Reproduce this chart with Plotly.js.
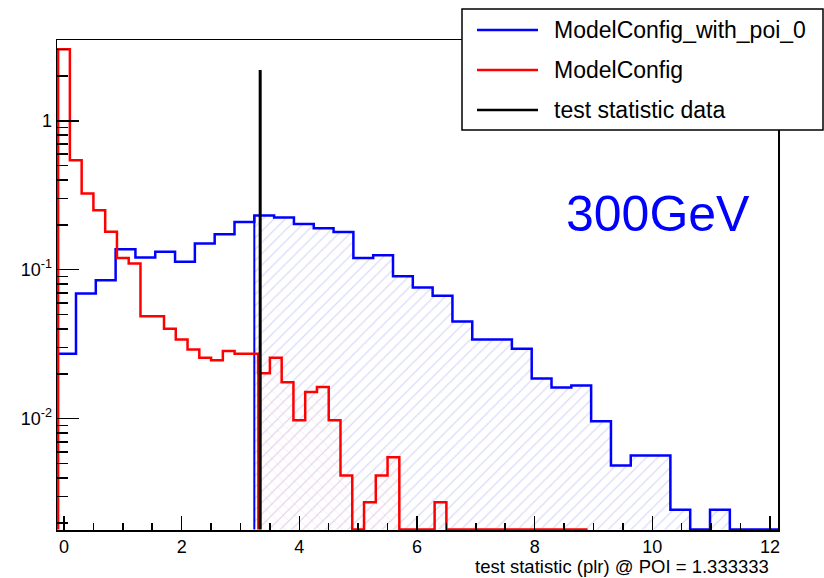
<!DOCTYPE html>
<html>
<head>
<meta charset="utf-8">
<script src="https://cdn.plot.ly/plotly-3.0.1.min.js"></script>
<style>html,body{margin:0;padding:0;background:#fff;}#chart{width:824px;height:578px;}</style>
</head>
<body>
<div id="chart"></div>
<script>
// ---- data ----
const seriesNames = ["ModelConfig_with_poi_0", "ModelConfig", "test statistic data"];
const blueBinStart = -0.133;
const blueBinWidth = 0.3368;
const blueValues = [0.0273, 0.0692, 0.085, 0.137, 0.121, 0.132, 0.113, 0.150, 0.173, 0.209,
  0.231, 0.224, 0.203, 0.190, 0.179, 0.120, 0.125, 0.0904, 0.0760, 0.0669,
  0.0449, 0.0340, 0.0340, 0.0295, 0.0186, 0.0162, 0.0167, 0.0096, 0.00486, 0.00567,
  0.00567, 0.00245, 0, 0.00245, 0, 0, 0];
const redBinStart = -0.1;
const redBinWidth = 0.2;
const redValues = [3.02, 0.544, 0.325, 0.251, 0.180, 0.120, 0.110, 0.0487, 0.0487, 0.0402,
  0.0340, 0.0291, 0.0257, 0.0247, 0.0285, 0.0273, 0.0273, 0.0202, 0.0257, 0.0176,
  0.00975, 0.0151, 0.0163, 0.00975, 0.00416, 0, 0.00275, 0.00416, 0.00552, 0,
  0, 0, 0.00275, 0, 0, 0, 0, 0, 0, 0, 0, 0, 0, 0, 0];
const testStatistic = 3.335;
const testLineTop = 2.19;
const xTickVals = [0, 2, 4, 6, 8, 10, 12];
const yTickVals = [0.01, 0.1, 1];
const yTickText = ["10<sup>-2</sup>", "10<sup>-1</sup>", "1"];
const xTitle = "test statistic (plr) @ POI = 1.333333";
const massLabel = "300GeV";

// ---- layout constants ----
const W = 824, H = 578;
const L = 57, R = 778, T = 40, B = 530;
const yLogMin = -2.747, yLogMax = 0.542;
const floorVal = Math.pow(10, yLogMin + 0.004);
const font = "Liberation Sans, Arial, Helvetica, sans-serif";
const px = x => (x - L) / (R - L);
const py = y => (B - y) / (B - T);

function stepTrace(start, width, vals) {
  const xs = [start], ys = [floorVal];
  vals.forEach((v, i) => { xs.push(start + i * width); ys.push(v > 0 ? v : floorVal); });
  const end = start + vals.length * width;
  xs.push(end); ys.push(vals[vals.length - 1] > 0 ? vals[vals.length - 1] : floorVal);
  xs.push(end); ys.push(floorVal);
  return {xs, ys};
}
function shadedTrace(start, width, vals, cut) {
  let k0 = 0;
  while (start + (k0 + 1) * width <= cut) k0++;
  const xs = [start + k0 * width], ys = [floorVal];
  for (let i = k0; i < vals.length; i++) { xs.push(start + i * width); ys.push(vals[i] > 0 ? vals[i] : floorVal); }
  const end = start + vals.length * width;
  xs.push(end); ys.push(vals[vals.length - 1] > 0 ? vals[vals.length - 1] : floorVal);
  xs.push(end); ys.push(floorVal);
  return {xs, ys, edge: start + k0 * width, v: vals[k0]};
}

const blueStep = stepTrace(blueBinStart, blueBinWidth, blueValues);
const redStep = stepTrace(redBinStart, redBinWidth, redValues);
const blueShade = shadedTrace(blueBinStart, blueBinWidth, blueValues, testStatistic);
const redShade = shadedTrace(redBinStart, redBinWidth, redValues, testStatistic);

const traces = [
  {x: blueShade.xs, y: blueShade.ys, mode: "lines", line: {shape: "hv", width: 0, color: "rgba(0,0,0,0)"},
   fill: "toself", fillcolor: "rgba(0,0,0,0)",
   fillpattern: {shape: "/", fgcolor: "rgb(218,218,250)", bgcolor: "rgba(255,255,255,0)", size: 8, solidity: 0.15},
   hoverinfo: "skip", showlegend: false},
  {x: redShade.xs, y: redShade.ys, mode: "lines", line: {shape: "hv", width: 0, color: "rgba(0,0,0,0)"},
   fill: "toself", fillcolor: "rgba(0,0,0,0)",
   fillpattern: {shape: "x", fgcolor: "rgb(250,215,215)", bgcolor: "rgba(255,255,255,0)", size: 8, solidity: 0.12},
   hoverinfo: "skip", showlegend: false},
  {x: blueStep.xs, y: blueStep.ys, mode: "lines", name: seriesNames[0], line: {shape: "hv", width: 2.5, color: "#0000ff"}},
  {x: [blueShade.edge, blueShade.edge], y: [floorVal, blueShade.v], mode: "lines", line: {width: 2, color: "#0000ff"}, showlegend: false},
  {x: redStep.xs, y: redStep.ys, mode: "lines", name: seriesNames[1], line: {shape: "hv", width: 2.5, color: "#ff0000"}},
  {x: [redShade.edge, redShade.edge], y: [floorVal, redShade.v], mode: "lines", line: {width: 2, color: "#ff0000"}, showlegend: false},
  {x: [testStatistic, testStatistic], y: [floorVal, testLineTop], mode: "lines", name: seriesNames[2], line: {width: 3, color: "#000000"}}
];

const minorY = [];
for (let e = -3; e <= 0; e++) for (let d = 2; d <= 9; d++) {
  const v = d * Math.pow(10, e);
  if (Math.log10(v) > yLogMin && Math.log10(v) < yLogMax) minorY.push(v);
}

// manual legend (ROOT style box)
const legRows = [30, 70, 110];
const legColors = ["#0000ff", "#ff0000", "#000000"];
const shapes = [
  {type: "rect", xref: "paper", yref: "paper", x0: px(462), x1: px(823), y0: py(130), y1: py(9),
   line: {color: "#000", width: 1.5}, fillcolor: "#fff", layer: "above"}
];
const annotations = [];
legRows.forEach((yy, i) => {
  shapes.push({type: "line", xref: "paper", yref: "paper", x0: px(477), x1: px(538), y0: py(yy), y1: py(yy),
    line: {color: legColors[i], width: 2.5}, layer: "above"});
  annotations.push({xref: "paper", yref: "paper", x: px(552), y: py(yy), xanchor: "left", yanchor: "middle",
    text: seriesNames[i], showarrow: false, font: {family: font, size: 23, color: "#000"}});
});
annotations.push({xref: "paper", yref: "paper", x: px(658), y: py(214), xanchor: "center", yanchor: "middle",
  text: massLabel, showarrow: false, font: {family: font, size: 50, color: "#0000ff"}});
annotations.push({xref: "paper", yref: "paper", x: px(771), y: py(566), xanchor: "right", yanchor: "middle",
  text: xTitle, showarrow: false, font: {family: font, size: 18.5, color: "#000"}});

const layout = {
  width: W, height: H,
  margin: {l: L, r: W - R, t: T, b: H - B, pad: 0},
  paper_bgcolor: "#fff", plot_bgcolor: "#fff",
  showlegend: false,
  font: {family: font, size: 18, color: "#000"},
  xaxis: {range: [-0.119, 12.137], tickvals: xTickVals, ticks: "inside", ticklen: 14, tickwidth: 1.5, tickcolor: "#000",
    showline: true, mirror: true, linecolor: "#000", linewidth: 1.5, showgrid: false, zeroline: false,
    minor: {dtick: 0.5, ticks: "inside", ticklen: 7, tickwidth: 1.5, tickcolor: "#000", showgrid: false},
    tickfont: {family: font, size: 18, color: "#000"}},
  yaxis: {type: "log", range: [yLogMin, yLogMax], tickmode: "array", tickvals: yTickVals, ticktext: yTickText,
    ticks: "inside", ticklen: 22, tickwidth: 1.5, tickcolor: "#000",
    showline: true, mirror: true, linecolor: "#000", linewidth: 1.5, showgrid: false, zeroline: false,
    minor: {tickmode: "array", tickvals: minorY, ticks: "inside", ticklen: 11, tickwidth: 1.5, tickcolor: "#000", showgrid: false},
    tickfont: {family: font, size: 18, color: "#000"}},
  shapes: shapes,
  annotations: annotations
};

Plotly.newPlot("chart", traces, layout, {displayModeBar: false, staticPlot: true});
</script>
</body>
</html>
